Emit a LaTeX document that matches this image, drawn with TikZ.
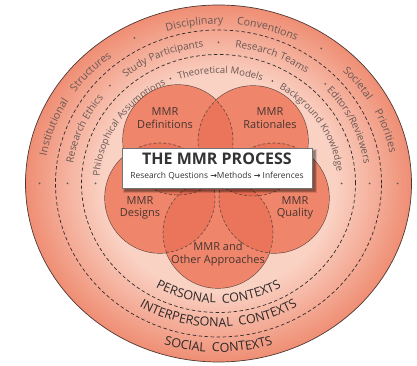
\documentclass[tikz,border=0pt]{standalone}
\usepackage{fontspec}
\setmainfont{Open Sans}
\newfontfamily\ringfont[LetterSpace=5]{Open Sans}
\newfontfamily\ctxfont[LetterSpace=24]{Open Sans}
\newfontfamily\arrowfont{DejaVu Sans}
\usetikzlibrary{decorations.text}
\definecolor{ringlight}{RGB}{250,210,196}
\definecolor{ringdark}{RGB}{239,142,116}
\definecolor{circbase}{RGB}{246,158,130}
\definecolor{circdeep}{RGB}{225,80,55}
\definecolor{circline}{RGB}{100,70,62}
\definecolor{labeltext}{RGB}{72,52,48}
\definecolor{ringtext}{RGB}{105,88,84}
\definecolor{ctxtext}{RGB}{45,40,40}
\definecolor{dashcol}{RGB}{50,45,45}
\pgfdeclareradialshading{ringshade}{\pgfpoint{0bp}{0bp}}{%
  color(0bp)=(ringlight); color(15bp)=(ringlight); color(25bp)=(ringdark); color(50bp)=(ringdark)}
\newcommand\bandA{\ringfont\fontsize{10.6}{12}\selectfont}
\newcommand\bandB{\ringfont\fontsize{10}{11}\selectfont}
\newcommand\bandC{\ringfont\fontsize{9.5}{11}\selectfont}
\newcommand\ctxsize{\ctxfont\fontsize{12.5}{14}\selectfont}
\newcommand\RingTop[6]{%
  \path[decorate,decoration={text along path,text align=center,text color=ringtext,
     text={|#5|#6}}]
   (C) ++({#3+#4}:#1pt and #2pt)
   arc[start angle={#3+#4},end angle={#3-#4},x radius=#1pt,y radius=#2pt];}
\newcommand\RingLow[5]{%
  \path[decorate,decoration={text along path,text align=center,text color=ctxtext,
     text={|#4|#5}}]
   (C) ++({270-#3}:#1pt and #2pt)
   arc[start angle={270-#3},end angle={270+#3},x radius=#1pt,y radius=#2pt];}
\newcommand\RingDot[3]{\fill[ringtext] (C) ++(#3:#1pt and #2pt) circle[radius=1pt];}
\newcommand\arr{{\arrowfont\bfseries\fontsize{8}{9}\selectfont →}}
\begin{document}
\begin{tikzpicture}[x=1pt,y=1pt,
  ringdash/.style={draw=dashcol,line width=0.7pt,dash pattern=on 3.5pt off 2.5pt},
  lbl/.style={align=center,font=\fontsize{11}{12.5}\selectfont,text=labeltext,inner sep=0pt},
  circr/.style={radius=55pt}]
\useasboundingbox (0,0) rectangle (417,366);
\fill[white] (0,0) rectangle (417,366);
\coordinate (C) at (218.5,182.5);
% rings
\shade[shading=ringshade] (C) ellipse[x radius=193pt,y radius=178.5pt];
\draw[circline!80!black,line width=0.7pt] (C) ellipse[x radius=193pt,y radius=178.5pt];
\draw[ringdash] (C) ellipse[x radius=163pt,y radius=153.5pt];
\draw[ringdash] (C) ellipse[x radius=137pt,y radius=129pt];
% band 1
\RingDot{179}{165}{180}\RingDot{179}{165}{118}\RingDot{179}{165}{55}\RingDot{179}{165}{0}
\RingTop{174.5}{159.5}{160}{30}{\bandA}{Institutional}
\RingTop{174.5}{159.5}{137}{30}{\bandA}{Structures}
\RingTop{174.5}{159.5}{98}{30}{\bandA}{Disciplinary}
\RingTop{174.5}{159.5}{73.5}{30}{\bandA}{Conventions}
\RingTop{174.5}{159.5}{37.5}{30}{\bandA}{Societal}
\RingTop{174.5}{159.5}{18.5}{30}{\bandA}{Priorities}
% band 2
\RingDot{151}{141}{180}\RingDot{151}{141}{136}\RingDot{151}{141}{90}\RingDot{151}{141}{45}\RingDot{151}{141}{0}
\RingTop{147}{137}{157}{40}{\bandB}{Research Ethics}
\RingTop{147}{137}{113}{40}{\bandB}{Study Participants}
\RingTop{147}{137}{68}{40}{\bandB}{Research Teams}
\RingTop{147}{137}{25}{40}{\bandB}{Editors/Reviewers}
% band 3
\RingDot{123}{114}{180}\RingDot{123}{114}{113}\RingDot{123}{114}{64}\RingDot{123}{114}{0}
\RingTop{119}{110}{147}{50}{\bandC}{Philosophical Assumptions}
\RingTop{119}{110}{89}{50}{\bandC}{Theoretical Models}
\RingTop{119}{110}{32}{50}{\bandC}{Background Knowledge}
% bottom contexts
\RingLow{128}{119.5}{70}{\ctxsize}{PERSONAL CONTEXTS}
\RingLow{153}{143.5}{70}{\ctxsize}{INTERPERSONAL CONTEXTS}
\RingLow{181}{168.5}{70}{\ctxsize}{SOCIAL CONTEXTS}
% circles
\coordinate (cDef) at (178,226);
\coordinate (cRat) at (253,225);
\coordinate (cDes) at (160,168);
\coordinate (cQua) at (274,168);
\coordinate (cOth) at (218,133);
\foreach \c in {cDef,cRat,cDes,cQua,cOth}
  \draw[circline,line width=1.3pt] (\c) circle[circr];
\fill[circbase] (cDef) circle[circr] (cRat) circle[circr] (cDes) circle[circr]
  (cQua) circle[circr] (cOth) circle[circr];
\foreach \c in {cDef,cRat,cDes,cQua,cOth}
  \fill[circdeep,fill opacity=0.3] (\c) circle[circr];
\foreach \c/\oa/\ob/\oc/\od in {cDef/cRat/cDes/cQua/cOth,cRat/cDef/cDes/cQua/cOth,
   cDes/cDef/cRat/cQua/cOth,cQua/cDef/cRat/cDes/cOth,cOth/cDef/cRat/cDes/cQua}{
  \begin{scope}
    \clip (\oa) circle[circr] (\ob) circle[circr] (\oc) circle[circr] (\od) circle[circr];
    \draw[circline,line width=0.6pt,dash pattern=on 3pt off 2pt] (\c) circle[circr];
  \end{scope}}
% labels
\node[lbl] (lDef) at (165,248) {MMR\\Definitions};
\node[lbl] (lRat) at (270,248) {MMR\\Rationales};
\node[lbl] (lDes) at (140,158) {MMR\\Designs};
\node[lbl] (lQua) at (295,158) {MMR\\Quality};
\node[lbl] (lOth) at (218,112) {MMR and\\Other Approaches};
% process box with shadow
\foreach \s in {0,1,2,3}
  \fill[black,opacity=0.12] (125-\s*0.6,175-\s*0.6) rectangle (315+\s*0.6,215+\s*0.6);
\node[draw=black!55,line width=0.5pt,fill=white,minimum width=190pt,minimum height=40pt,
  inner sep=0pt] (proc) at (217,198) {};
\node[font=\bfseries\fontsize{16}{18}\selectfont,text=black!80,inner sep=0pt] (title)
  at (217,207) {THE MMR PROCESS};
\node[font=\fontsize{8.4}{10}\selectfont,text=black!80,inner sep=0pt] (sub)
  at (217,189.5) {Research Questions \arr Methods \arr\ Inferences};
\end{tikzpicture}
\end{document}
